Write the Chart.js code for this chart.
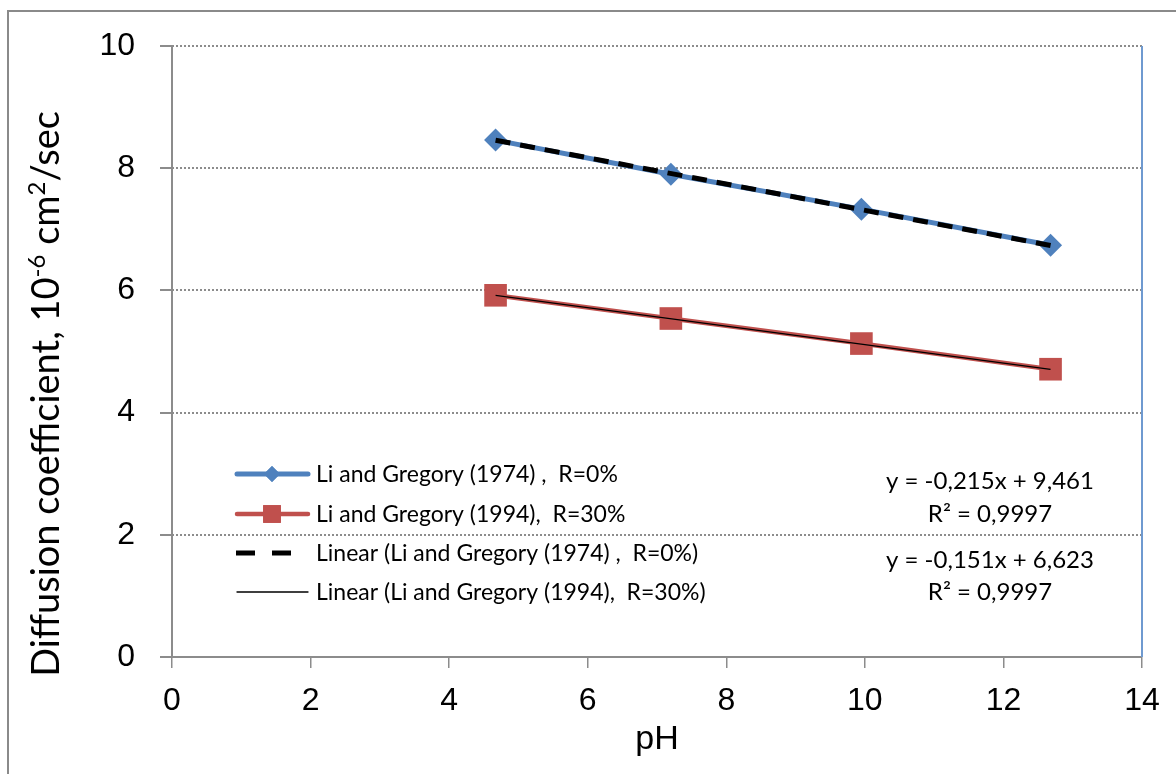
<!DOCTYPE html>
<html>
<head>
<meta charset="utf-8">
<script src="https://cdn.jsdelivr.net/npm/chart.js@4.4.1/dist/chart.umd.min.js"></script>
<style>
  html, body { margin: 0; padding: 0; background: #fff; }
  #wrap { width: 1176px; height: 774px; position: relative; }
</style>
</head>
<body>
<div id="wrap"><canvas id="diffChart"></canvas></div>
<script>
// valores
const phValues = [4.67, 7.2, 9.95, 12.68]
const dc1974 = [8.46, 7.9, 7.33, 6.74]
const dc1994 = [5.92, 5.54, 5.13, 4.71]

// linhas de tendência (extremos)
const trendX = [4.67, 12.68]
const trend1974 = [8.457, 6.735]
const trend1994 = [5.918, 4.708]

const xTicks = [0, 2, 4, 6, 8, 10, 12, 14]
const yTicks = [0, 2, 4, 6, 8, 10]

const seriesLabels = [
  "Li and Gregory (1974) ,  R=0%",
  "Li and Gregory (1994),  R=30%",
  "Linear (Li and Gregory (1974) ,  R=0%)",
  "Linear (Li and Gregory (1994),  R=30%)",
]
const eqLabels = ["y = -0,215x + 9,461", "R² = 0,9997", "y = -0,151x + 6,623", "R² = 0,9997"]

const toPoints = (xs, ys) => xs.map((x, i) => ({ x: x, y: ys[i] }))

const BLUE = "#4F81BD"
const RED = "#C0504D"
const GRID = "#8c8c8c"
const TEXT_FONT = "Lato, 'Open Sans', sans-serif"
const NUM_FONT = "'Liberation Sans', Arial, sans-serif"

// legenda, títulos e bordas desenhados à mão
const decorPlugin = {
  id: "decor",
  afterDraw(chart) {
    const ctx = chart.ctx
    const area = chart.chartArea
    ctx.save()

    // moldura externa
    ctx.strokeStyle = "#8a8a8a"
    ctx.lineWidth = 2
    ctx.beginPath()
    ctx.moveTo(8, 800)
    ctx.lineTo(8, 11)
    ctx.lineTo(1200, 11)
    ctx.stroke()

    // eixos sólidos
    ctx.strokeStyle = GRID
    ctx.lineWidth = 2
    ctx.beginPath()
    ctx.moveTo(area.left, area.top)
    ctx.lineTo(area.left, area.bottom)
    ctx.lineTo(area.right, area.bottom)
    ctx.stroke()

    // borda direita da área do gráfico
    ctx.strokeStyle = "#6f9ad0"
    ctx.beginPath()
    ctx.moveTo(area.right, area.top)
    ctx.lineTo(area.right, area.bottom)
    ctx.stroke()

    // título do eixo x
    ctx.fillStyle = "#000"
    ctx.font = "34px " + NUM_FONT
    ctx.textAlign = "center"
    ctx.textBaseline = "middle"
    ctx.fillText("pH", (area.left + area.right) / 2, 740)

    // título do eixo y com sobrescritos
    ctx.translate(46, 394)
    ctx.rotate(-Math.PI / 2)
    const big = "38px " + TEXT_FONT
    const small = "24px " + TEXT_FONT
    const parts = [
      ["Diffusion coefficient, 10", big, 0],
      ["-6", small, -14],
      [" cm", big, 0],
      ["2", small, -14],
      ["/sec", big, 0],
    ]
    let total = 0
    parts.forEach((p) => {
      ctx.font = p[1]
      total += ctx.measureText(p[0]).width
    })
    let cx = -total / 2
    ctx.textAlign = "left"
    ctx.textBaseline = "alphabetic"
    parts.forEach((p) => {
      ctx.font = p[1]
      ctx.fillText(p[0], cx, 13 + p[2])
      cx += ctx.measureText(p[0]).width
    })
    ctx.setTransform(1, 0, 0, 1, 0, 0)

    // legenda
    const rows = [474, 514, 553, 592]
    const order = [2, 3, 0, 1]
    ctx.font = "23px " + TEXT_FONT
    order.forEach((dsIndex, i) => {
      const ds = chart.data.datasets[dsIndex]
      const y = rows[i]
      const dashed = ds.borderDash && ds.borderDash.length
      ctx.strokeStyle = ds.borderColor
      ctx.lineWidth = ds.borderWidth
      ctx.lineCap = dashed ? "butt" : "round"
      ctx.setLineDash(dashed ? [19, 17] : [])
      ctx.beginPath()
      ctx.moveTo(dashed ? 236 : 237, y)
      ctx.lineTo(dashed ? 294 : 308, y)
      ctx.stroke()
      ctx.setLineDash([])
      if (ds.pointRadius > 0) {
        ctx.fillStyle = ds.pointBackgroundColor
        Chart.helpers.drawPoint(ctx, {
          pointStyle: ds.pointStyle,
          radius: ds.pointStyle === "rect" ? 12.5 : 8,
          rotation: 0,
          borderWidth: 0,
        }, 272, y)
        ctx.fill()
      }
      ctx.fillStyle = "#000"
      ctx.textAlign = "left"
      ctx.textBaseline = "middle"
      ctx.fillText(ds.label, 316, y + 1)
    })

    // equações das retas
    ctx.font = "24px " + TEXT_FONT
    ctx.textAlign = "center"
    const eqRows = [481, 514, 560, 592]
    eqLabels.forEach((t, i) => ctx.fillText(t, 990, eqRows[i]))

    ctx.restore()
  },
}

const ctx = document.getElementById("diffChart").getContext("2d")
const diffChart = new Chart(ctx, {
  type: "line",
  data: {
    datasets: [
      {
        label: seriesLabels[2],
        data: toPoints(trendX, trend1974),
        borderColor: "#000",
        borderWidth: 5,
        borderDash: [15, 10],
        pointRadius: 0,
        pointHoverRadius: 0,
      },
      {
        label: seriesLabels[3],
        data: toPoints(trendX, trend1994),
        borderColor: "#000",
        borderWidth: 1.3,
        pointRadius: 0,
        pointHoverRadius: 0,
      },
      {
        label: seriesLabels[0],
        data: toPoints(phValues, dc1974),
        borderColor: BLUE,
        borderWidth: 5,
        pointStyle: "rectRot",
        pointRadius: 11.5,
        pointBackgroundColor: BLUE,
        pointBorderWidth: 0,
        pointHoverRadius: 11.5,
      },
      {
        label: seriesLabels[1],
        data: toPoints(phValues, dc1994),
        borderColor: RED,
        borderWidth: 4.5,
        pointStyle: "rect",
        pointRadius: 16,
        pointBackgroundColor: RED,
        pointBorderWidth: 0,
        pointHoverRadius: 16,
      },
    ],
  },
  options: {
    responsive: true,
    maintainAspectRatio: false,
    animation: false,
    layout: {
      padding: { left: 0, right: 34, top: 46, bottom: 0 },
    },
    scales: {
      x: {
        type: "linear",
        min: xTicks[0],
        max: xTicks[xTicks.length - 1],
        afterBuildTicks: (scale) => {
          scale.ticks = xTicks.map((v) => ({ value: v }))
        },
        afterFit: (scale) => {
          scale.height = 117
        },
        grid: {
          drawOnChartArea: false,
          color: GRID,
          tickLength: 11,
          lineWidth: 1.5,
        },
        border: { display: false },
        ticks: {
          color: "#000",
          padding: 14,
          font: { family: NUM_FONT, size: 32 },
        },
      },
      y: {
        min: yTicks[0],
        max: yTicks[yTicks.length - 1],
        afterBuildTicks: (scale) => {
          scale.ticks = yTicks.map((v) => ({ value: v }))
        },
        afterFit: (scale) => {
          scale.width = 172
        },
        grid: {
          color: GRID,
          lineWidth: 2,
          tickBorderDash: [],
          tickLength: 12,
        },
        border: { display: false, dash: [2, 2] },
        ticks: {
          color: "#000",
          padding: 25,
          font: { family: NUM_FONT, size: 32 },
        },
      },
    },
    plugins: {
      legend: { display: false },
      tooltip: { enabled: false },
    },
  },
  plugins: [decorPlugin],
})
</script>
</body>
</html>
